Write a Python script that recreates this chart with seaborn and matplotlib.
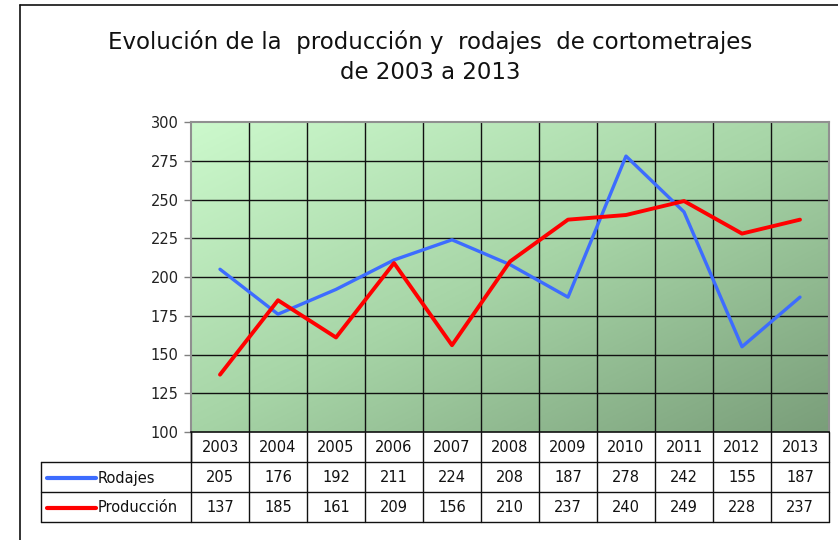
import numpy as np
import pandas as pd
import matplotlib
matplotlib.use("Agg")
import matplotlib.pyplot as plt
import seaborn as sns
from matplotlib.colors import LinearSegmentedColormap

years = ["2003", "2004", "2005", "2006", "2007", "2008", "2009", "2010", "2011", "2012", "2013"]
rodajes = [205, 176, 192, 211, 224, 208, 187, 278, 242, 155, 187]
produccion = [137, 185, 161, 209, 156, 210, 237, 240, 249, 228, 237]
series_names = ["Rodajes", "Producción"]
series_colors = ["#3d6cff", "#ff0000"]
yticks = [100, 125, 150, 175, 200, 225, 250, 275, 300]
title = "Evolución de la  producción y  rodajes  de cortometrajes\nde 2003 a 2013"

sns.set_theme(style="white")
plt.rcParams['font.family'] = ['DejaVu Sans']

W, H = 838, 540
fig = plt.figure(figsize=(W / 100, H / 100), dpi=100)

# plot area in pixels
L, R, T, B = 191, 829, 122, 432
ax = fig.add_axes([L / W, 1 - B / H, (R - L) / W, (B - T) / H])

n = len(years)
df = pd.DataFrame({
    "x": list(range(n)) * 2,
    "value": rodajes + produccion,
    "serie": [series_names[0]] * n + [series_names[1]] * n,
})

# gradient background
grad = np.add.outer(np.linspace(0, 1, 200), np.linspace(0, 1, 200)) / 2
cmap = LinearSegmentedColormap.from_list("g", ["#ccf9cc", "#a6d4a6", "#7a9e7a"])
ax.imshow(grad, cmap=cmap, extent=[-0.5, n - 0.5, 100, 300], aspect="auto",
          origin="upper", zorder=0)

sns.lineplot(data=df, x="x", y="value", hue="serie", palette=series_colors,
             hue_order=series_names, ax=ax, legend=False, zorder=3)
for line, lw in zip(ax.get_lines(), [2.4, 2.8]):
    line.set_linewidth(lw)

ax.set_xlim(-0.5, n - 0.5)
ax.set_ylim(100, 300)
ax.set_yticks(yticks)
ax.set_yticklabels([str(v) for v in yticks], fontsize=10.5, color="#222222")
ax.set_xticks([])
ax.set_xlabel("")
ax.set_ylabel("")
for v in yticks[1:-1]:
    ax.axhline(v, color="#111111", lw=1.0, zorder=1)
for k in range(1, n):
    ax.axvline(k - 0.5, color="#111111", lw=1.0, zorder=1)
ax.tick_params(axis="y", which="both", left=True, length=5, width=1,
               color="#808080", pad=4)
for s in ["left", "top", "right"]:
    ax.spines[s].set_color("#909090")
    ax.spines[s].set_linewidth(1.5)
ax.spines["bottom"].set_color("#111111")
ax.spines["bottom"].set_linewidth(1.2)

# overlay for title, frame and data table (pixel coordinates)
ov = fig.add_axes([0, 0, 1, 1], facecolor="none")
ov.set_xlim(0, W)
ov.set_ylim(H, 0)
ov.axis("off")

ov.plot([20, 20], [5, H], color="#111111", lw=1.2)
ov.plot([20, W], [5, 5], color="#111111", lw=1.2)

ov.text(430, 57, title, ha="center", va="center", fontsize=16.5,
        color="#111111", linespacing=1.35)

cw = (R - L) / n
rows_y = [432, 462, 492, 522]
TL = 41
lc = "#111111"
# year row
ov.plot([L, L], [rows_y[0], rows_y[1]], color=lc, lw=1)
ov.plot([L, R], [rows_y[1], rows_y[1]], color=lc, lw=1)
ov.plot([TL, R], [rows_y[2], rows_y[2]], color=lc, lw=1)
ov.plot([TL, R], [rows_y[3], rows_y[3]], color=lc, lw=1)
ov.plot([TL, TL], [rows_y[1], rows_y[3]], color=lc, lw=1)
ov.plot([TL, L], [rows_y[1], rows_y[1]], color=lc, lw=1)
for k in range(n + 1):
    xk = L + k * cw
    ov.plot([xk, xk], [rows_y[0], rows_y[3]], color=lc, lw=1)
for i, y in enumerate(years):
    ov.text(L + (i + 0.5) * cw, (rows_y[0] + rows_y[1]) / 2 + 1, y,
            ha="center", va="center", fontsize=10.5, color="#111111")
for r, (name, vals, col) in enumerate(zip(series_names, [rodajes, produccion], series_colors)):
    yc = (rows_y[r + 1] + rows_y[r + 2]) / 2 + 1
    ov.plot([47, 96], [yc, yc], color=col, lw=3, solid_capstyle="round")
    ov.text(98, yc, name, ha="left", va="center", fontsize=10.5, color="#111111")
    for i, v in enumerate(vals):
        ov.text(L + (i + 0.5) * cw, yc - 1, str(v), ha="center", va="center",
                fontsize=10.5, color="#111111")

fig.savefig("out.png", dpi=100)
